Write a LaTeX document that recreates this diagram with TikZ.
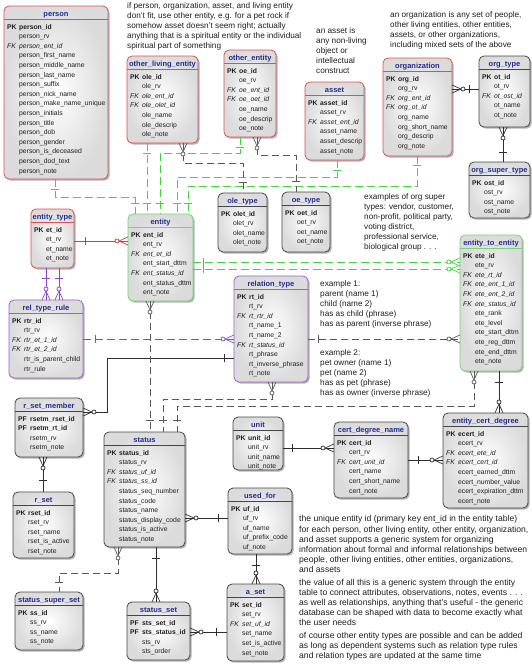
\documentclass[tikz,border=0pt]{standalone}
\usepackage{fontspec}
\setmainfont{Liberation Sans}
\usetikzlibrary{shadows,shadings,decorations.markings,calc}

\definecolor{redb}{RGB}{222,80,80}
\definecolor{grnb}{RGB}{110,215,110}
\definecolor{purb}{RGB}{150,100,210}
\definecolor{drkb}{RGB}{70,70,70}
\definecolor{hdrc}{RGB}{35,45,140}
\definecolor{grnl}{RGB}{60,215,60}
\definecolor{redl}{RGB}{215,60,60}
\definecolor{purl}{RGB}{140,70,205}
\definecolor{blkl}{RGB}{45,45,45}
\definecolor{txtc}{RGB}{30,30,30}

\newcommand\kpk[1]{\makebox[12pt][l]{\bfseries PK}\textbf{#1}}
\newcommand\kfk[1]{\makebox[12pt][l]{\itshape FK}\textit{#1}}
\newcommand\kpf[1]{\makebox[12pt][l]{\bfseries PF}\textbf{#1}}
\newcommand\knk[1]{\hspace*{12pt}#1}

\newcommand\ertable[7]{%
  \node[tbl, draw=#2, minimum width={(#5)-(#3)}, minimum height={(#6)-(#4)}, anchor=north west] (#1) at (#3,#4) {};
  \draw[#2, line width=0.6pt] ([yshift=-13.5pt]#1.north west) -- ([yshift=-13.5pt]#1.north east);
  \node[hdr] (#1-title) at ([yshift=-10pt]#1.north) {#7};
}
\newcommand\erfields[2]{%
  \foreach \ftxt [count=\fno] in {#2} {
    \node[fld] (#1-\fno) at ([xshift=3pt, yshift={-23.1pt-(\fno-1)*9.6pt}]#1.north west) {\ftxt};
  }
}

\tikzset{
  tbl/.style={rounded corners=5pt, line width=0.8pt, inner sep=0pt, outer sep=0pt,
    inner color=white, outer color=gray!28,
    drop shadow={shadow xshift=1.6pt, shadow yshift=-1.6pt, opacity=0.3, fill=black}},
  hdr/.style={anchor=base, inner sep=0pt, font=\fontsize{7.5}{9}\selectfont\bfseries, text=hdrc},
  fld/.style={anchor=base west, inner sep=0pt, font=\fontsize{6.8}{8}\selectfont, text=txtc},
  note/.style={anchor=north west, align=left, inner sep=0pt, text=txtc},
  lnk/.style={line width=0.8pt},
  gline/.style={lnk, color=grnl, dash pattern=on 8pt off 4pt},
  rline/.style={lnk, color=redl},
  pline/.style={lnk, color=purl},
  pdash/.style={pline, dash pattern=on 8pt off 4pt},
  bline/.style={lnk, color=blkl},
  bdash/.style={lnk, color=blkl!80, dash pattern=on 7pt off 4pt},
  one at start/.style={postaction={decorate, decoration={markings, mark=at position #1 with {\draw[solid, line width=0.8pt] (0pt,-4pt) -- (0pt,4pt);}}}},
  one at start/.default=10pt,
  one at end/.style={postaction={decorate, decoration={markings, mark=at position -#1 with {\draw[solid, line width=0.8pt] (0pt,-4pt) -- (0pt,4pt);}}}},
  one at end/.default=10pt,
  many at start/.style={postaction={decorate, decoration={markings, mark=at position 0.01pt with {\draw[solid, line width=0.7pt] (0pt,4pt) -- (9pt,0pt) -- (0pt,-4pt); \draw[solid, line width=0.7pt, fill=white] (11pt,0pt) circle[radius=2pt];}}}},
  many at end/.style={postaction={decorate, decoration={markings, mark=at position -0.01pt with {\draw[solid, line width=0.7pt] (0pt,4pt) -- (-9pt,0pt) -- (0pt,-4pt); \draw[solid, line width=0.7pt, fill=white] (-11pt,0pt) circle[radius=2pt];}}}},
}

\begin{document}
\begin{tikzpicture}[x=1pt,y=-1pt]
\useasboundingbox (0,0) rectangle (532,664);

% ---------- tables ----------
\ertable{person}{redb}{4}{6}{108}{179}{person}
\erfields{person}{\kpk{person\_id}, \knk{person\_rv}, \kfk{person\_ent\_id}, \knk{person\_first\_name}, \knk{person\_middle\_name}, \knk{person\_last\_name}, \knk{person\_suffix}, \knk{person\_nick\_name}, \knk{person\_make\_name\_unique}, \knk{person\_initials}, \knk{person\_title}, \knk{person\_dob}, \knk{person\_gender}, \knk{person\_is\_deceased}, \knk{person\_dod\_text}, \knk{person\_note}}

\ertable{ole}{redb}{127}{56}{198}{143}{other\_living\_entity}
\erfields{ole}{\kpk{ole\_id}, \knk{ole\_rv}, \kfk{ole\_ent\_id}, \kfk{ole\_olet\_id}, \knk{ole\_name}, \knk{ole\_descrip}, \knk{ole\_note}}

\ertable{oe}{redb}{224}{50}{276}{137}{other\_entity}
\erfields{oe}{\kpk{oe\_id}, \knk{oe\_rv}, \kfk{oe\_ent\_id}, \kfk{oe\_oet\_id}, \knk{oe\_name}, \knk{oe\_descrip}, \knk{oe\_note}}

\ertable{asset}{redb}{305}{82}{364}{160}{asset}
\erfields{asset}{\kpk{asset\_id}, \knk{asset\_rv}, \kfk{asset\_ent\_id}, \knk{asset\_name}, \knk{asset\_descrip}, \knk{asset\_note}}

\ertable{org}{redb}{383}{58}{452}{156}{organization}
\erfields{org}{\kpk{org\_id}, \knk{org\_rv}, \kfk{org\_ent\_id}, \kfk{org\_ot\_id}, \knk{org\_name}, \knk{org\_short\_name}, \knk{org\_descrip}, \knk{org\_note}}

\ertable{ot}{drkb}{479}{56}{530}{127}{org\_type}
\erfields{ot}{\kpk{ot\_id}, \knk{ot\_rv}, \kfk{ot\_ost\_id}, \knk{ot\_name}, \knk{ot\_note}}

\ertable{ost}{drkb}{469}{162}{530}{218}{org\_super\_type}
\erfields{ost}{\kpk{ost\_id}, \knk{ost\_rv}, \knk{ost\_name}, \knk{ost\_note}}

\ertable{olet}{drkb}{218}{193}{267}{252}{ole\_type}
\erfields{olet}{\kpk{olet\_id}, \knk{olet\_rv}, \knk{olet\_name}, \knk{olet\_note}}

\ertable{oet}{drkb}{282}{192}{330}{252}{oe\_type}
\erfields{oet}{\kpk{oet\_id}, \knk{oet\_rv}, \knk{oet\_name}, \knk{oet\_note}}

\ertable{ent}{grnb}{128}{214}{193}{301}{entity}
\erfields{ent}{\kpk{ent\_id}, \knk{ent\_rv}, \kfk{ent\_et\_id}, \knk{ent\_start\_dttm}, \kfk{ent\_status\_id}, \knk{ent\_status\_dttm}, \knk{ent\_note}}

\ertable{et}{redb}{31}{209}{74}{268}{entity\_type}
\erfields{et}{\kpk{et\_id}, \knk{et\_rv}, \knk{et\_name}, \knk{et\_note}}

\ertable{rtr}{purb}{9}{300}{83}{378}{rel\_type\_rule}
\erfields{rtr}{\kpk{rtr\_id}, \knk{rtr\_rv}, \kfk{rtr\_et\_1\_id}, \kfk{rtr\_et\_2\_id}, \knk{rtr\_is\_parent\_child}, \knk{rtr\_rule}}

\ertable{ete}{grnb}{460}{235}{522}{371}{entity\_to\_entity}
\erfields{ete}{\kpk{ete\_id}, \knk{ete\_rv}, \kfk{ete\_rt\_id}, \kfk{ete\_ent\_1\_id}, \kfk{ete\_ent\_2\_id}, \kfk{ete\_status\_id}, \knk{ete\_rank}, \knk{ete\_level}, \knk{ete\_start\_dttm}, \knk{ete\_reg\_dttm}, \knk{ete\_end\_dttm}, \knk{ete\_note}}

\ertable{rt}{purb}{234}{276}{308}{382}{relation\_type}
\erfields{rt}{\kpk{rt\_id}, \knk{rt\_rv}, \kfk{rt\_rtr\_id}, \knk{rt\_name\_1}, \knk{rt\_name\_2}, \kfk{rt\_status\_id}, \knk{rt\_phrase}, \knk{rt\_inverse\_phrase}, \knk{rt\_note}}

\ertable{rsm}{drkb}{15}{398}{83}{457}{r\_set\_member}
\erfields{rsm}{\kpf{rsetm\_rset\_id}, \kpf{rsetm\_rt\_id}, \knk{rsetm\_rv}, \knk{rsetm\_note}}

\ertable{rset}{drkb}{13}{492}{74}{558}{r\_set}
\erfields{rset}{\kpk{rset\_id}, \knk{rset\_rv}, \knk{rset\_name}, \knk{rset\_is\_active}, \knk{rset\_note}}

\ertable{status}{drkb}{104}{432}{185}{547}{status}
\erfields{status}{\kpk{status\_id}, \knk{status\_rv}, \kfk{status\_uf\_id}, \kfk{status\_ss\_id}, \knk{status\_seq\_number}, \knk{status\_code}, \knk{status\_name}, \knk{status\_display\_code}, \knk{status\_is\_active}, \knk{status\_note}}

\ertable{unit}{drkb}{233}{417}{283}{470}{unit}
\erfields{unit}{\kpk{unit\_id}, \knk{unit\_rv}, \knk{unit\_name}, \knk{unit\_note}}

\ertable{cdn}{drkb}{334}{422}{408}{498}{cert\_degree\_name}
\erfields{cdn}{\kpk{cert\_id}, \knk{cert\_rv}, \kfk{cert\_unit\_id}, \knk{cert\_name}, \knk{cert\_short\_name}, \knk{cert\_note}}

\ertable{ecd}{drkb}{443}{413}{528}{508}{entity\_cert\_degree}
\erfields{ecd}{\kpk{ecert\_id}, \knk{ecert\_rv}, \kfk{ecert\_ete\_id}, \kfk{ecert\_cert\_id}, \knk{ecert\_earned\_dttm}, \knk{ecert\_number\_value}, \knk{ecert\_expiration\_dttm}, \knk{ecert\_note}}

\ertable{uf}{drkb}{228}{488}{292}{554}{used\_for}
\erfields{uf}{\kpk{uf\_id}, \knk{uf\_rv}, \knk{uf\_name}, \knk{uf\_prefix\_code}, \knk{uf\_note}}

\ertable{aset}{drkb}{227}{584}{284}{661}{a\_set}
\erfields{aset}{\kpk{set\_id}, \knk{set\_rv}, \kfk{set\_uf\_id}, \knk{set\_name}, \knk{set\_is\_active}, \knk{set\_note}}

\ertable{stset}{drkb}{127}{602}{190}{660}{status\_set}
\erfields{stset}{\kpf{sts\_set\_id}, \kpf{sts\_status\_id}, \knk{sts\_rv}, \knk{sts\_order}}

\ertable{sss}{drkb}{15}{592}{83}{650}{status\_super\_set}
\erfields{sss}{\kpk{ss\_id}, \knk{ss\_rv}, \knk{ss\_name}, \knk{ss\_note}}

% ---------- connectors ----------
\draw[bline, many at start, one at end=10pt] ([yshift=-31pt]org.north east) -- ([yshift=-33pt]ot.north west);
\draw[bline, many at start, one at end=10pt] ([xshift=24pt]ot.south west) -- ([xshift=34pt]ost.north west);

\draw[gline, one at start=10pt, one at end=11pt] ([xshift=51pt]person.south west) -- ++(0,18) -| ([xshift=7pt]ent.north west);
\draw[gline, one at start=10pt, one at end=11pt] ([xshift=20pt]ole.south west) -- ([xshift=19pt]ent.north west);
\draw[gline, one at start=10pt, one at end=11pt] ([xshift=16pt]oe.south west) -- ++(0,16) -| ([xshift=32pt]ent.north west);
\draw[gline, one at start=10pt, one at end=11pt] ([xshift=32pt]asset.south west) -- ++(0,17) -| ([xshift=49pt]ent.north west);
\draw[gline, one at start=9pt, one at end=11pt] ([xshift=34pt]org.south west) -- ++(0,30) -| ([xshift=60pt]ent.north west);

\draw[bdash, many at start, one at end=11pt] ([xshift=56pt]ole.south west) -- ++(0,20) -| ([xshift=25pt]olet.north west);
\draw[bdash, many at start, one at end=11pt] ([xshift=33pt]oe.south west) -- ++(0,18) -| ([xshift=14pt]oet.north west);

\draw[rline, one at start=11pt, many at end] ([yshift=-32pt]et.north east) -- ([yshift=-27pt]ent.north west);
\draw[pline, one at start=10pt, many at end] ([xshift=15pt]et.south west) -- ([xshift=37pt]rtr.north west);
\draw[pline, one at start=10pt, many at end] ([xshift=28pt]et.south west) -- ([xshift=50pt]rtr.north west);
\draw[pdash, one at start=12pt, many at end] ([yshift=-39pt]rtr.north east) -- ([yshift=-63pt]rt.north west);

\draw[gline, one at start=10pt, many at end] ([yshift=-48pt]ent.north east) -- ([yshift=-27pt]ete.north west);
\draw[gline, one at start=10pt, many at end] ([yshift=-55pt]ent.north east) -- ([yshift=-34pt]ete.north west);

\draw[bdash, one at start=10pt, many at end] ([yshift=-63pt]rt.north east) -- ([yshift=-104pt]ete.north west);
\draw[bline, one at start=10pt, many at end] ([yshift=-82pt]rt.north west) -| ($(rsm.north east)+(24,14)$) -- ([yshift=-14pt]rsm.north east);

\draw[bdash, many at start, one at end=12pt] ([xshift=38pt]rt.south west) -- ++(0,17) -| ([xshift=59pt]status.north west);
\draw[bdash, many at start, one at end=12pt] ([xshift=22pt]ent.south west) -- ([xshift=46pt]status.north west);
\draw[bdash, many at start, one at end=12pt] ([xshift=14pt]ete.south west) -- ++(0,35) -| ([xshift=73pt]status.north west);

\draw[bline, one at start=11pt, many at end] ([xshift=39pt]ete.south west) -- ([xshift=56pt]ecd.north west);
\draw[bline, one at start=10pt, many at end] ([yshift=-38pt]cdn.north east) -- ([yshift=-47pt]ecd.north west);
\draw[bline, one at start=9pt, many at end] ([yshift=-31pt]unit.north east) -- ([yshift=-26pt]cdn.north west);

\draw[bline, many at start, one at end=10pt] ([yshift=-86pt]status.north east) -- ([yshift=-30pt]uf.north west);
\draw[bline, one at start=11pt, many at end] ([xshift=28pt]uf.south west) -- ([xshift=29pt]aset.north west);
\draw[bline, one at start=11pt, many at end] ([xshift=52pt]status.south west) -- ([xshift=29pt]stset.north west);
\draw[bline, one at start=11pt, many at end] ([yshift=-48pt]aset.north west) -- ([yshift=-30pt]stset.north east);
\draw[bdash, many at start, one at end=10pt] ([xshift=14pt]status.south west) -- ++(0,26) -| ([xshift=44pt]sss.north west);
\draw[bline, one at start=12pt, many at end] ([xshift=30pt]rset.north west) -- ([xshift=28pt]rsm.south west);

% ---------- notes ----------
\node[note, font=\fontsize{8.2}{10}\selectfont] (note-top) at (127,2.5) {if person, organization, asset, and living entity\\don't fit, use other entity, e.g. for a pet rock if\\somehow asset doesn't seem right; actually\\anything that is a spiritual entity or the individual\\spiritual part of something};
\node[note, font=\fontsize{8.2}{10}\selectfont] (note-asset) at (316,27.8) {an asset is\\any non-living\\object or\\intellectual\\construct};
\node[note, font=\fontsize{8.2}{9.8}\selectfont] (note-org) at (390,11.5) {an organization is any set of people,\\other living entities, other entities,\\assets, or other organizations,\\including mixed sets of the above};
\node[note, font=\fontsize{8.2}{10}\selectfont] (note-ost) at (364,193.8) {examples of org super\\types: vendor, customer,\\non-profit, political party,\\voting district,\\professional service,\\biological group . . .};
\node[note, font=\fontsize{8.2}{9.9}\selectfont] (note-ex1) at (320,280.5) {example 1:\\parent (name 1)\\child (name 2)\\has as child (phrase)\\has as parent (inverse phrase)};
\node[note, font=\fontsize{8.2}{10}\selectfont] (note-ex2) at (320,349) {example 2:\\pet owner (name 1)\\pet (name 2)\\has as pet (phrase)\\has as owner (inverse phrase)};
\node[note, font=\fontsize{8.6}{10.2}\selectfont] (note-bottom) at (299,515.5) {the unique entity id (primary key ent\_id in the entity table)\\for each person, other living entity, other entity, organization,\\and asset supports a generic system for organizing\\information about formal and informal relationships between\\people, other living entities, other entities, organizations,\\and assets\\[2pt]the value of all this is a generic system through the entity\\table to connect attributes, observations, notes, events . . .\\as well as relationships, anything that's useful - the generic\\database can be shaped with data to become exactly what\\the user needs\\[2pt]of course other entity types are possible and can be added\\as long as dependent systems such as relation type rules\\and relation types are updated at the same time};
\end{tikzpicture}
\end{document}
